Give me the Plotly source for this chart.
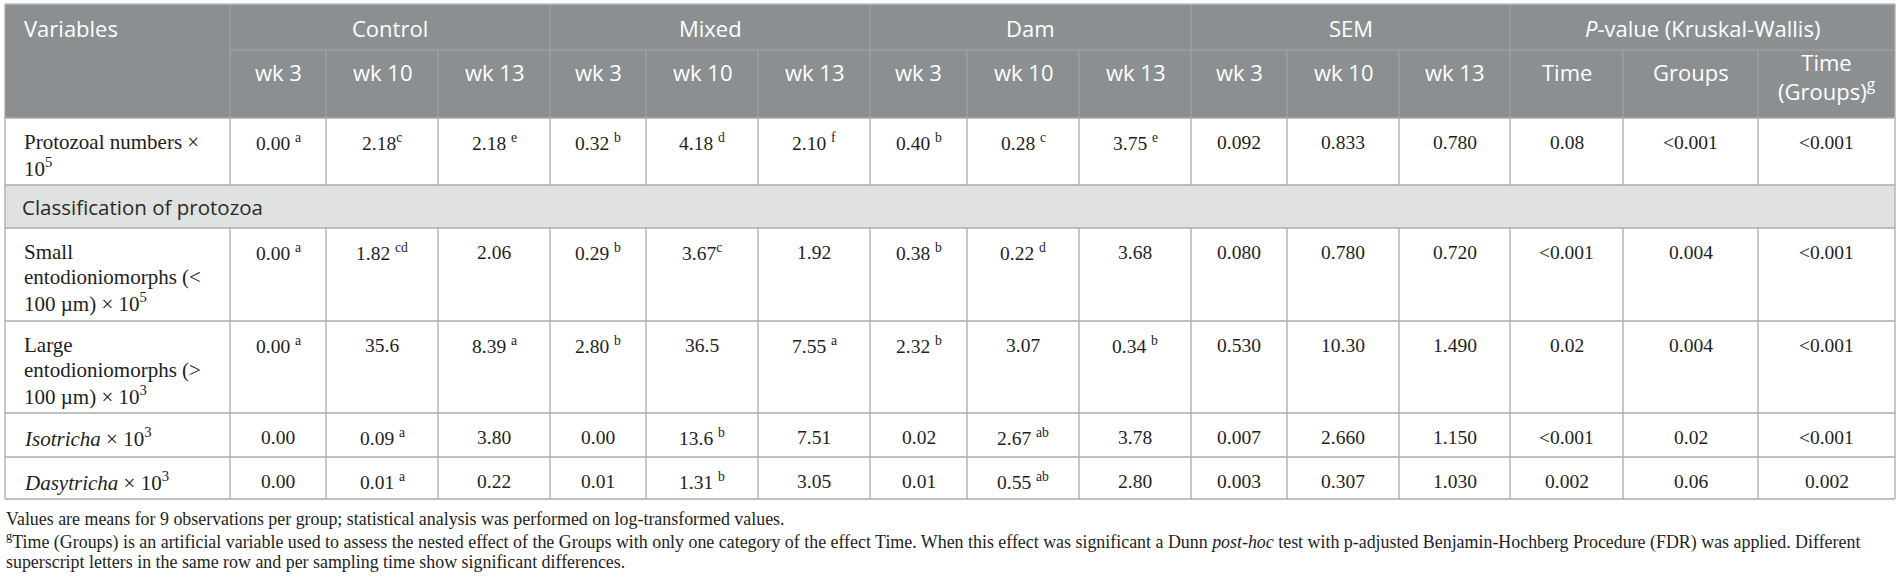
import plotly.graph_objects as go

# ---- table content ----
groups = ["Control", "Mixed", "Dam", "SEM", "<i>P</i>-value (Kruskal-Wallis)"]
weeks = ["wk 3", "wk 10", "wk 13"]
p_heads = ["Time", "Groups", "Time<br>(Groups)<sup>g</sup>"]
section_title = "Classification of protozoa"

variables = [
    "Protozoal numbers ×<br>10<sup>5</sup>",
    "Small<br>entodioniomorphs (&lt;<br>100 µm) × 10<sup>5</sup>",
    "Large<br>entodioniomorphs (&gt;<br>100 µm) × 10<sup>3</sup>",
    "<i>Isotricha</i> × 10<sup>3</sup>",
    "<i>Dasytricha</i> × 10<sup>3</sup>",
]

# means per group (wk 3, wk 10, wk 13), superscript letters kept apart
control = [["0.00", "2.18", "2.18"], ["0.00", "1.82", "2.06"], ["0.00", "35.6", "8.39"],
           ["0.00", "0.09", "3.80"], ["0.00", "0.01", "0.22"]]
control_sup = [[" a", "c", " e"], [" a", " cd", ""], [" a", "", " a"],
               ["", " a", ""], ["", " a", ""]]
mixed = [["0.32", "4.18", "2.10"], ["0.29", "3.67", "1.92"], ["2.80", "36.5", "7.55"],
         ["0.00", "13.6", "7.51"], ["0.01", "1.31", "3.05"]]
mixed_sup = [[" b", " d", " f"], [" b", "c", ""], [" b", "", " a"],
             ["", " b", ""], ["", " b", ""]]
dam = [["0.40", "0.28", "3.75"], ["0.38", "0.22", "3.68"], ["2.32", "3.07", "0.34"],
       ["0.02", "2.67", "3.78"], ["0.01", "0.55", "2.80"]]
dam_sup = [[" b", " c", " e"], [" b", " d", ""], [" b", "", " b"],
           ["", " ab", ""], ["", " ab", ""]]
sem = [["0.092", "0.833", "0.780"], ["0.080", "0.780", "0.720"], ["0.530", "10.30", "1.490"],
       ["0.007", "2.660", "1.150"], ["0.003", "0.307", "1.030"]]
p_values = [["0.08", "<0.001", "<0.001"], ["<0.001", "0.004", "<0.001"], ["0.02", "0.004", "<0.001"],
            ["<0.001", "0.02", "<0.001"], ["0.002", "0.06", "0.002"]]

footnotes = [
    "Values are means for 9 observations per group; statistical analysis was performed on log-transformed values.",
    "<sup>g</sup>Time (Groups) is an artificial variable used to assess the nested effect of the Groups with only "
    "one category of the effect Time. When this effect was significant a Dunn <i>post-hoc</i> test with p-adjusted "
    "Benjamin-Hochberg Procedure (FDR) was applied. Different",
    "superscript letters in the same row and per sampling time show significant differences.",
]

# ---- layout constants (pixels) ----
W, H = 1900, 582
X0 = 5
COL_W = [225, 96, 112, 112, 96, 112, 112, 97, 112, 112, 96, 112, 111, 113, 135, 137]
ROW_EDGES = [4, 50, 118, 185, 228, 321, 413, 457, 499]   # header1, header2, row1, section, rows 2-5
DATA_ROWS = [2, 4, 5, 6, 7]   # index into ROW_EDGES (top edge) for each variable row
LINE_H = 25

HEAD_FILL = "#8b8f92"
HEAD_LINE = "#a3a7aa"
GRID = "#ababab"
SECTION_FILL = "#e0e2e2"
SANS = "Open Sans, Noto Sans, sans-serif"
SERIF = "Liberation Serif, Times New Roman, serif"
TXT = "#1e1e1e"
HEAD_SIZE = 22
SECTION_SIZE = 20.5
LABEL_SIZE = 21
VALUE_SIZE = 19.5
NOTE_SIZE = 17.9

edges = [X0]
for w in COL_W:
    edges.append(edges[-1] + w)
x_right = edges[-1]
y_top, y_bot = ROW_EDGES[0], ROW_EDGES[-1]

shapes = []
annotations = []


def line(x0, y0, x1, y1, color, width=1.0):
    shapes.append(dict(type="line", xref="x", yref="y", x0=x0, y0=y0, x1=x1, y1=y1,
                       line=dict(color=color, width=width), layer="above"))


def text(x, y, s, size, color=TXT, family=SERIF, anchor="center"):
    annotations.append(dict(x=x, y=y, xref="x", yref="y", text=s, showarrow=False,
                            xanchor=anchor, yanchor="middle",
                            font=dict(size=size, color=color, family=family)))


# backgrounds
shapes.append(dict(type="rect", xref="x", yref="y", x0=X0, x1=x_right, y0=y_top, y1=ROW_EDGES[2],
                   fillcolor=HEAD_FILL, line=dict(width=0), layer="below"))
shapes.append(dict(type="rect", xref="x", yref="y", x0=X0, x1=x_right, y0=ROW_EDGES[3], y1=ROW_EDGES[4],
                   fillcolor=SECTION_FILL, line=dict(width=0), layer="below"))

# header lines
group_edges = [edges[1], edges[4], edges[7], edges[10], edges[13]]
for xe in edges[1:-1]:
    if xe in group_edges:
        line(xe, y_top, xe, ROW_EDGES[2], HEAD_LINE)
    else:
        line(xe, ROW_EDGES[1], xe, ROW_EDGES[2], HEAD_LINE)
line(edges[1], ROW_EDGES[1], x_right, ROW_EDGES[1], HEAD_LINE)

# body grid
for ye in ROW_EDGES[2:]:
    line(X0, ye, x_right, ye, GRID, 1.3)
for xe in edges[1:-1]:
    line(xe, ROW_EDGES[2], xe, ROW_EDGES[3], GRID, 1.3)
    line(xe, ROW_EDGES[4], xe, y_bot, GRID, 1.3)
line(X0, y_top, x_right, y_top, "#b9bcbe", 1.3)
line(X0, y_top, X0, y_bot, GRID, 1.3)
line(x_right, y_top, x_right, y_bot, GRID, 1.3)

# header text
text(X0 + 17, 28, "Variables", HEAD_SIZE, "white", SANS, "left")
for g, name in enumerate(groups):
    c0 = 1 + 3 * g
    text((edges[c0] + edges[c0 + 3]) / 2, 28, name, HEAD_SIZE, "white", SANS)
    heads = p_heads if g == 4 else weeks
    for k, h in enumerate(heads):
        xc = (edges[c0 + k] + edges[c0 + k + 1]) / 2
        yc = 72 if "<br>" not in h else 76
        text(xc, yc, h, HEAD_SIZE, "white", SANS)

# section row
text(X0 + 15, (ROW_EDGES[3] + ROW_EDGES[4]) / 2, section_title, SECTION_SIZE, "#2a2a2a", SANS, "left")

# body rows
blocks = [(control, control_sup), (mixed, mixed_sup), (dam, dam_sup)]
for r, label in enumerate(variables):
    top = ROW_EDGES[DATA_ROWS[r]]
    for j, part in enumerate(label.split("<br>")):
        text(X0 + 17, top + 24 + LINE_H * j, part, LABEL_SIZE, anchor="left")
    cells = []
    for vals, sups in blocks:
        for k in range(3):
            s = vals[r][k]
            if sups[r][k]:
                sp = sups[r][k]
                s += ("&nbsp;" if sp.startswith(" ") else "") + "<sup>" + sp.strip() + "</sup>"
            cells.append(s)
    cells += sem[r]
    cells += [v.replace("<", "&lt;") for v in p_values[r]]
    for c, s in enumerate(cells):
        text((edges[c + 1] + edges[c + 2]) / 2, top + 24, s, VALUE_SIZE)

# footnotes
for i, f in enumerate(footnotes):
    text(X0 - 1, 519 + 21.5 * i, f, NOTE_SIZE, anchor="left")

fig = go.Figure()
fig.update_layout(
    width=W, height=H, autosize=False,
    margin=dict(l=0, r=0, t=0, b=0),
    paper_bgcolor="white", plot_bgcolor="white",
    xaxis=dict(range=[0, W], visible=False, fixedrange=True),
    yaxis=dict(range=[H, 0], visible=False, fixedrange=True),
    shapes=shapes, annotations=annotations, showlegend=False,
)
fig.write_html("out.html", config={"displayModeBar": False},
               post_script="document.body.style.margin='0';")
